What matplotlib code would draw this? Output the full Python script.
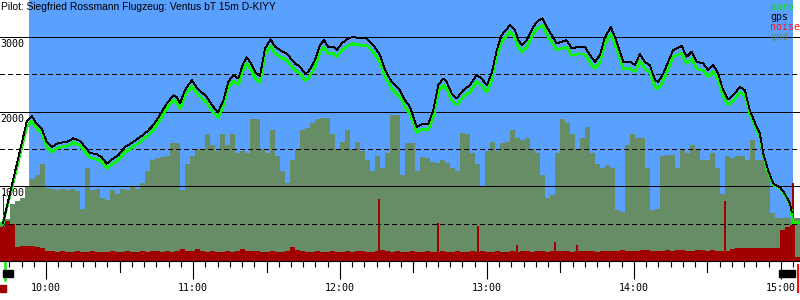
import numpy as np
import matplotlib
matplotlib.use("Agg")
import matplotlib.pyplot as plt
import matplotlib.transforms as mtransforms
from matplotlib.patches import Rectangle

# times are minutes after 10:00, altitudes in m
t_min = [-17.6, -7.9, -5.8, -3.8, -1.8, 0.3, 2.3, 4.9, 8.4, 11.1, 13.9, 15.9, 18.0, 20.7, 22.7,
         24.8, 26.8, 29.5, 32.2, 35.0, 38.4, 41.1, 43.1, 45.2, 47.2, 49.3, 52.0, 53.3, 54.7,
         56.7, 59.5, 61.5, 62.9, 65.6, 68.3, 70.3, 72.4, 74.4, 76.4, 78.5, 80.5, 81.9, 83.3,
         85.3, 87.3, 89.4, 91.7, 93.5, 95.5, 98.2, 101.6, 103.7, 105.7, 107.1, 109.8, 111.8,
         113.5, 115.2, 117.3, 118.7, 120.7, 123.4, 125.4, 128.2, 130.9, 133.6, 136.3, 138.4,
         141.1, 143.1, 144.5, 146.5, 148.6, 151.3, 153.3, 156.0, 158.1, 160.1, 162.2, 163.5,
         165.6, 167.6, 170.3, 173.1, 175.8, 177.8, 179.9, 181.9, 184.0, 186.0, 189.4, 191.4,
         192.8, 194.2, 196.2, 198.2, 200.3, 202.7, 204.4, 206.4, 208.4, 210.5, 212.5, 214.6,
         217.3, 220.0, 222.0, 224.1, 226.1, 228.2, 230.6, 232.2, 234.3, 235.6, 238.4, 240.4,
         242.4, 244.5, 246.5, 248.6, 249.9, 252.0, 254.0, 256.0, 259.5, 261.5, 263.6, 265.6,
         268.3, 270.3, 272.4, 274.4, 276.4, 278.5, 280.5, 283.3, 285.3, 287.3, 290.1, 291.4,
         292.8, 294.8, 296.9, 299.6, 301.6, 303.7, 304.4]
gps_alt = [503, 1865, 1939, 1832, 1778, 1594, 1527, 1581, 1594, 1644, 1608, 1527, 1447, 1429, 1393,
           1304, 1358, 1416, 1527, 1581, 1661, 1729, 1796, 1886, 1997, 2110, 2221, 2198, 2110,
           2288, 2422, 2324, 2279, 2198, 2064, 1997, 2154, 2400, 2489, 2445, 2646, 2727, 2668,
           2534, 2476, 2848, 2969, 2869, 2825, 2781, 2646, 2601, 2512, 2534, 2691, 2892,
           2959, 2869, 2869, 2825, 2915, 2982, 3003, 2982, 2982, 2892, 2758, 2557,
           2400, 2332, 2288, 2154, 2064, 1796, 1832, 1832, 2020, 2355, 2445, 2400,
           2244, 2177, 2288, 2355, 2489, 2445, 2355, 2512, 2825, 3026, 3160, 3093,
           2959, 2892, 2959, 3093, 3205, 3250, 3138, 3026, 2915, 2936, 2959, 2848,
           2869, 2869, 2758, 2668, 2758, 3003, 3130, 3003, 2802, 2668, 2668, 2624,
           2771, 2668, 2624, 2422, 2400, 2512, 2668, 2825, 2879, 2735, 2802, 2668,
           2646, 2557, 2624, 2512, 2288, 2163, 2221, 2332, 2288, 2020, 1796, 1707,
           1439, 1215, 1036, 990, 902, 768, 655]

baro_t = [-18.8] + t_min + [304.7, 308.0]
baro_alt = [503, 503, 1795, 1876, 1770, 1715, 1530, 1465, 1520, 1535, 1585, 1550, 1465, 1385, 1365, 1330,
            1240, 1295, 1350, 1460, 1515, 1595, 1665, 1730, 1820, 1930, 2045, 2150, 2130, 2040,
            2215, 2345, 2245, 2200, 2120, 1985, 1925, 2075, 2320, 2410, 2360, 2565, 2645, 2585,
            2450, 2390, 2765, 2880, 2780, 2735, 2690, 2555, 2510, 2420, 2445, 2600, 2800,
            2865, 2780, 2780, 2735, 2825, 2890, 2910, 2890, 2890, 2800, 2665, 2470,
            2310, 2245, 2200, 2065, 1975, 1720, 1760, 1760, 1935, 2270, 2355, 2310,
            2155, 2090, 2200, 2265, 2400, 2355, 2265, 2430, 2740, 2935, 3070, 3000,
            2865, 2800, 2865, 3000, 3110, 3160, 3045, 2935, 2825, 2845, 2865, 2755,
            2775, 2770, 2665, 2575, 2665, 2910, 3040, 2910, 2710, 2575, 2575, 2530,
            2680, 2575, 2530, 2330, 2305, 2420, 2575, 2735, 2785, 2645, 2710, 2575,
            2555, 2465, 2535, 2435, 2210, 2090, 2145, 2260, 2220, 1970, 1760, 1670,
            1420, 1195, 1020, 980, 892, 760, 645, 520, 520]

# terrain and engine noise, one sample every ~2 min from 9:41
sample_t0 = -18.8
sample_step = 2.04
gnd_alt = [503, 560, 760, 800, 850, 1000, 1100, 1150, 1300, 980, 960, 950, 960, 950, 960, 940,
           700, 1250, 950, 960, 850, 820, 950, 900, 960, 950, 1000, 960, 1050, 1200, 1350, 1380,
           1390, 1400, 1580, 1580, 950, 1300, 1400, 1500,
           1500, 1700, 1550, 1480, 1700, 1550, 1700, 1450, 1480, 1450, 1900, 1900, 1500, 1450,
           1750, 1400, 1200, 1050, 1350, 1500, 1750, 1780, 1850, 1900, 1910, 1910, 1700, 1500,
           1600, 1750, 1500, 1600, 1480, 1350, 1200, 1400, 1250, 1450, 1950, 1950,
           1150, 1580, 1580, 1200, 1390, 1380, 1330, 1310, 1350, 1310, 1250, 1200, 1720, 1700,
           1450, 1300, 1000, 1480, 1600, 1480, 1580, 1600, 1750, 1650, 1620, 1650, 1500, 1450,
           1150, 850, 880, 1450, 1900, 1850, 1700, 1500, 1650, 1800, 1450, 1300,
           1250, 1280, 1250, 680, 650, 1550, 1700, 1650, 1650, 1250, 680, 700, 1400, 1420,
           1420, 1250, 1500, 1450, 1550, 1500, 1350, 1350, 1450, 1250, 900, 1400, 1380, 1400,
           1400, 1350, 1620, 1350, 1350, 1200, 640, 580, 570, 570, 570, 570]
noise = [450, 530, 500, 190, 200, 195, 200, 185, 180, 140, 130, 125, 130, 120, 125, 130, 120, 125,
         130, 120, 125, 120, 130, 125, 120, 130, 125, 120, 130, 125, 135, 130, 125, 130, 120, 130,
         165, 135, 140, 165,
         130, 120, 130, 125, 120, 130, 125, 130, 160, 140, 130, 135, 125, 120, 130, 125, 120, 130,
         190, 150, 130, 125, 120, 130, 125, 120, 130, 125, 120, 130, 125, 135, 130, 120, 125, 140,
         150, 130, 125, 135,
         120, 125, 130, 120, 125, 130, 120, 125, 130, 125, 120, 130, 125, 120, 130, 125, 130, 125,
         120, 130, 125, 120, 130, 125, 135, 130, 125, 130, 135, 125, 130, 140, 135, 130, 125, 135,
         130, 135, 130, 125,
         135, 130, 140, 130, 150, 140, 130, 140, 150, 145, 135, 130, 140, 145, 140, 150, 145, 135,
         140, 150, 145, 140, 150, 140, 135, 140, 160, 175, 180, 175, 180, 170, 175, 170, 175, 180,
         420, 460, 480, 60]
spike_t = [-17.4, 135.9, 160.0, 176.3, 192.2, 207.8, 216.7, 277.1, 304.9]
spike_val = [900, 825, 505, 465, 210, 250, 220, 810, 1050]

sky = (-6.9, 304.9)
tow_bar = (-17.55, -13.6)
land_bar = (299.2, 305.7)
takeoff_mark = -16.6
land_mark = 306.9

hour_labels = ["10:00", "11:00", "12:00", "13:00", "14:00", "15:00"]
legend = [("baro", "#10e010"), ("gps", "black"), ("noise", "#ff1010"), ("gnd", "#6a8a6a")]

blue = "#5aa0ff"
gnd_col = "#678d67"
noise_col = "#a00000"
baro_col = "#10f010"
mono = "DejaVu Sans Mono"


def h(m):
    return 10 + np.asarray(m, dtype=float) / 60.0


fig = plt.figure(figsize=(8, 3), dpi=100)
ax = fig.add_axes([0, 0.13, 1, 0.87])
ax.set_xlim(h(-18.8), h(307.8))
ax.set_ylim(0, 3496)

ax.axvspan(h(sky[0]), h(sky[1]), color=blue, lw=0, zorder=0)

st = h(sample_t0 + sample_step * np.arange(len(gnd_alt) + 1))
ax.fill_between(st, np.append(gnd_alt, gnd_alt[-1]), step="post", color=gnd_col, lw=0, zorder=1)
ax.fill_between(st, np.append(noise, noise[-1]), step="post", color=noise_col, lw=0, zorder=2)
ax.bar(h(spike_t), spike_val, width=0.6 / 60, color=noise_col, lw=0, zorder=2)

for v in (1000, 2000, 3000):
    ax.axhline(v, color="black", lw=0.6, zorder=3, antialiased=False)
for v in (500, 1500, 2500):
    ax.axhline(v, color="black", lw=0.6, ls=(0, (6, 4)), zorder=3, antialiased=False)

ax.plot(h(baro_t), baro_alt, color=baro_col, lw=1.3, zorder=4, antialiased=False)
ax.plot(h(t_min), gps_alt, color="black", lw=0.6, zorder=5, antialiased=False)

for v in (1000, 2000, 3000):
    ax.annotate(str(v), xy=(0, v), xycoords=("axes fraction", "data"), xytext=(0.3, -1.5),
                textcoords="offset points", ha="left", va="top", fontsize=7.2, family=mono)

for s in ("top", "left", "right"):
    ax.spines[s].set_visible(False)
ax.spines["bottom"].set_linewidth(0.8)
ax.set_yticks([])
ax.set_xticks(h([0, 60, 120, 180, 240, 300]))
ax.set_xticklabels(hour_labels, fontsize=7.2, family=mono)
ax.set_xticks(h(np.arange(-15, 310, 5)), minor=True)
ax.tick_params(axis="x", which="major", length=13, width=0.8, pad=2.5)
ax.tick_params(axis="x", which="minor", length=4.4, width=0.8)

trans = mtransforms.blended_transform_factory(ax.transData, ax.transAxes)
for m in (-30, 30, 90, 150, 210, 270):
    ax.plot([h(m), h(m)], [0, -11 / 261], color="black", lw=0.8, transform=trans, clip_on=False)

ax.add_patch(Rectangle((h(tow_bar[0]), -16 / 261), h(tow_bar[1]) - h(tow_bar[0]), 7 / 261,
                       color="black", transform=trans, clip_on=False, zorder=6))
ax.add_patch(Rectangle((h(land_bar[0]), -16 / 261), h(land_bar[1]) - h(land_bar[0]), 7 / 261,
                       color="black", transform=trans, clip_on=False, zorder=6))
ax.plot([h(takeoff_mark)] * 2, [-1 / 261, -19 / 261], color=baro_col, lw=1.8,
        transform=trans, clip_on=False)
ax.add_patch(Rectangle((h(-18.8), -31 / 261), h(-16.3) - h(-18.8), 7 / 261,
                       color=noise_col, transform=trans, clip_on=False))
ax.plot([h(land_mark)] * 2, [-4 / 261, -31 / 261], color="#ff1010", lw=1.5,
        transform=trans, clip_on=False)

fig.text(0.001, 1 - 1.5 / 300, "Pilot: Siegfried Rossmann Flugzeug: Ventus bT 15m D-KIYY",
         ha="left", va="top", fontsize=7.4, family="Liberation Sans")
for i, (name, col) in enumerate(legend):
    fig.text(770 / 800, 1 - (2 + 10 * i) / 300, name, color=col, ha="left", va="top",
             fontsize=7.2, family=mono)

fig.savefig("out.png", dpi=100)
